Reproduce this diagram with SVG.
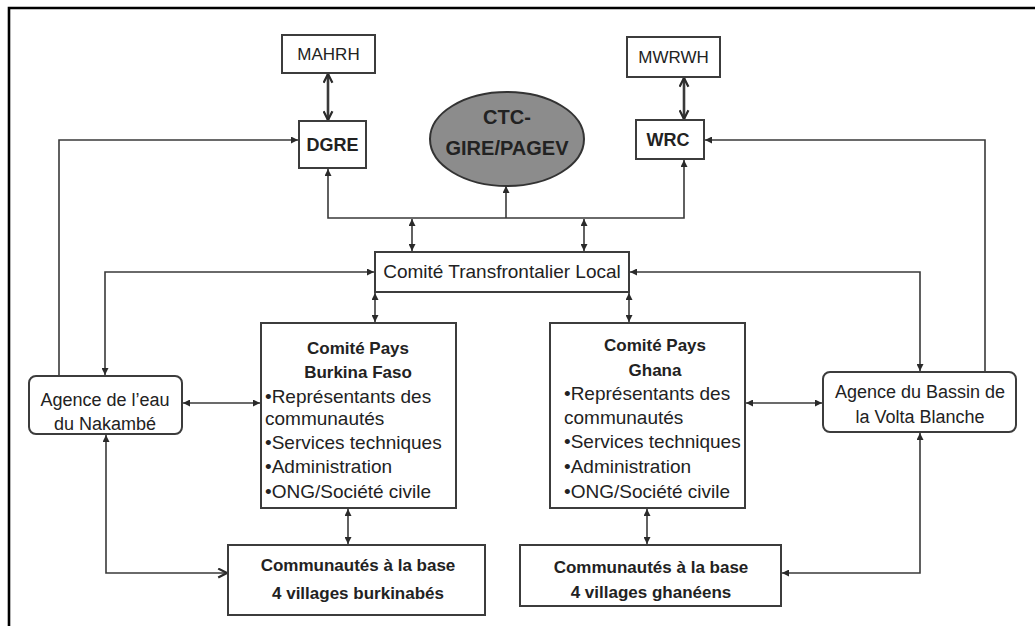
<svg xmlns="http://www.w3.org/2000/svg" width="1035" height="626" viewBox="0 0 1035 626">
<defs>
<marker id="ah" viewBox="0 0 8 8" refX="8" refY="4" markerWidth="7" markerHeight="7" markerUnits="userSpaceOnUse" orient="auto-start-reverse">
<path d="M0,0 L8,4 L0,8 z" fill="#2a2a2a"/>
</marker>
<marker id="av" viewBox="0 0 10 10" refX="9" refY="5" markerWidth="11" markerHeight="11" markerUnits="userSpaceOnUse" orient="auto-start-reverse">
<path d="M1,1 L9,5 L1,9" fill="none" stroke="#2a2a2a" stroke-width="2"/>
</marker>
</defs>
<style>
.box{fill:#fff;stroke:#3c3c3c;stroke-width:2}
.t{font-family:"Liberation Sans",Arial,sans-serif;fill:#222}
.b{font-weight:bold}
.c{text-anchor:middle}
.ln{fill:none;stroke:#3a3a3a;stroke-width:1.6}
.lt{fill:none;stroke:#3a3a3a;stroke-width:2.6}
.m{marker-start:url(#ah);marker-end:url(#ah)}
.e{marker-end:url(#ah)}
.v{marker-start:url(#av);marker-end:url(#av)}
</style>
<rect width="1035" height="626" fill="#fff"/>
<path d="M9,626 V8 H1035" fill="none" stroke="#000" stroke-width="2.6"/>

<g id="connectors">
<path class="lt v" d="M328,74 V120"/>
<path class="lt v" d="M684,78 V119"/>
<path class="ln e" d="M59,376 V140 H298"/>
<path class="ln m" d="M328,169 V218 H684 V160"/>
<path class="ln e" d="M506,218 V186"/>
<path class="ln m" d="M412,219 V251"/>
<path class="ln m" d="M584,219 V251"/>
<path class="ln m" d="M374,272 H105 V375"/>
<path class="ln m" d="M630,272 H920 V371"/>
<path class="ln e" d="M985,372 V140 H705"/>
<path class="ln m" d="M375,293 V322"/>
<path class="ln m" d="M629,293 V322"/>
<path class="ln m" d="M183,403 H260"/>
<path class="ln m" d="M746,403 H822"/>
<path class="ln m" d="M348,509 V544"/>
<path class="ln m" d="M647,509 V544"/>
<path class="ln" d="M106,435 V573 H227" marker-start="url(#ah)" marker-end="url(#av)"/>
<path class="ln m" d="M920,433 V573 H782"/>
</g>

<g id="mahrh">
<rect class="box" x="282" y="35" width="93" height="38"/>
<text class="t c" x="328.5" y="60" font-size="17">MAHRH</text>
</g>
<g id="mwrwh">
<rect class="box" x="627" y="37" width="93" height="40"/>
<text class="t c" x="673.5" y="63" font-size="17">MWRWH</text>
</g>
<g id="dgre">
<rect class="box" x="299" y="121" width="67" height="47"/>
<text class="t b c" x="332.5" y="151" font-size="18">DGRE</text>
</g>
<g id="wrc">
<rect class="box" x="636" y="120" width="68" height="39"/>
<text class="t b c" x="668" y="146" font-size="18">WRC</text>
</g>
<g id="ctc">
<ellipse cx="507" cy="139" rx="77" ry="47" fill="#8c8c8c" stroke="#333" stroke-width="2"/>
<text class="t b c" x="507" y="124" font-size="20">CTC-</text>
<text class="t b c" x="507" y="155" font-size="20">GIRE/PAGEV</text>
</g>
<g id="ctl">
<rect class="box" x="375" y="252" width="254" height="40"/>
<text class="t c" x="502" y="278" font-size="19">Comité Transfrontalier Local</text>
</g>
<g id="agence-nakambe">
<rect class="box" x="29" y="376" width="153" height="58" rx="7"/>
<text class="t c" x="105" y="406" font-size="18">Agence de l’eau</text>
<text class="t c" x="105" y="430" font-size="18">du Nakambé</text>
</g>
<g id="agence-volta">
<rect class="box" x="823" y="372" width="193" height="60" rx="7"/>
<text class="t c" x="920" y="398" font-size="18">Agence du Bassin de</text>
<text class="t c" x="920" y="423" font-size="18">la Volta Blanche</text>
</g>
<g id="cp-bf">
<rect class="box" x="261" y="323" width="195" height="185"/>
<text class="t b c" x="358" y="354" font-size="17">Comité Pays</text>
<text class="t b c" x="358" y="378" font-size="17">Burkina Faso</text>
<text class="t" x="265" y="403" font-size="19">•Représentants des</text>
<text class="t" x="265" y="425" font-size="19">communautés</text>
<text class="t" x="265" y="449" font-size="19">•Services techniques</text>
<text class="t" x="265" y="473" font-size="19">•Administration</text>
<text class="t" x="265" y="498" font-size="19">•ONG/Société civile</text>
</g>
<g id="cp-gh">
<rect class="box" x="550" y="323" width="195" height="185"/>
<text class="t b c" x="655" y="351" font-size="17">Comité Pays</text>
<text class="t b c" x="655" y="376" font-size="17">Ghana</text>
<text class="t" x="564" y="400" font-size="19">•Représentants des</text>
<text class="t" x="564" y="424" font-size="19">communautés</text>
<text class="t" x="564" y="448" font-size="19">•Services techniques</text>
<text class="t" x="564" y="473" font-size="19">•Administration</text>
<text class="t" x="564" y="498" font-size="19">•ONG/Société civile</text>
</g>
<g id="comm-bf">
<rect class="box" x="228" y="545" width="257" height="70"/>
<text class="t b c" x="358" y="571" font-size="17">Communautés à la base</text>
<text class="t b c" x="358" y="599" font-size="17">4 villages burkinabés</text>
</g>
<g id="comm-gh">
<rect class="box" x="520" y="545" width="261" height="61"/>
<text class="t b c" x="651" y="573" font-size="17">Communautés à la base</text>
<text class="t b c" x="651" y="598" font-size="17">4 villages ghanéens</text>
</g>
</svg>
